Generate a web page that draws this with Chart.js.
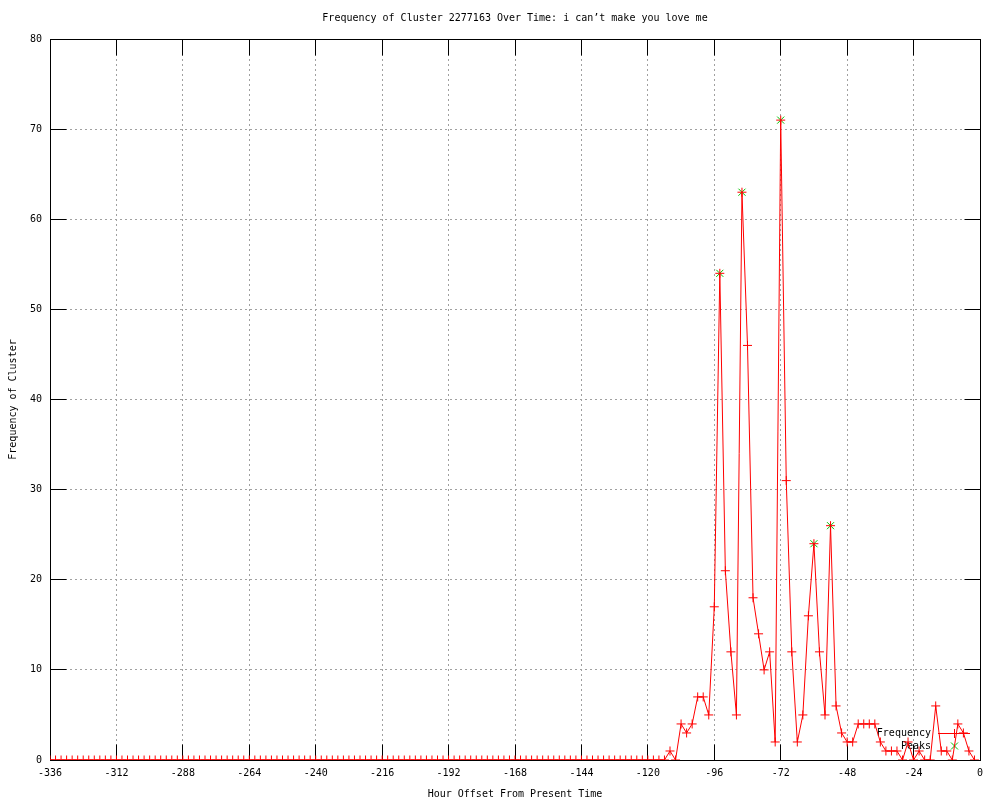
<!DOCTYPE html>
<html>
<head>
<meta charset="utf-8">
<script src="https://cdn.jsdelivr.net/npm/chart.js@4/dist/chart.umd.min.js"></script>
<style>
html,body{margin:0;padding:0;background:#fff;}
#wrap{width:1000px;height:800px;}
</style>
</head>
<body>
<div id="wrap"><canvas id="c" width="1000" height="800"></canvas></div>
<script>
// Hour offsets (every 2 hours)
const hours = [
-336,-334,-332,-330,-328,-326,-324,-322,-320,-318,-316,-314,-312,-310,-308,-306,-304,-302,-300,-298,
-296,-294,-292,-290,-288,-286,-284,-282,-280,-278,-276,-274,-272,-270,-268,-266,-264,-262,-260,-258,
-256,-254,-252,-250,-248,-246,-244,-242,-240,-238,-236,-234,-232,-230,-228,-226,-224,-222,-220,-218,
-216,-214,-212,-210,-208,-206,-204,-202,-200,-198,-196,-194,-192,-190,-188,-186,-184,-182,-180,-178,
-176,-174,-172,-170,-168,-166,-164,-162,-160,-158,-156,-154,-152,-150,-148,-146,-144,-142,-140,-138,
-136,-134,-132,-130,-128,-126,-124,-122,-120,-118,-116,-114,-112,-110,-108,-106,-104,-102,-100,-98,
-96,-94,-92,-90,-88,-86,-84,-82,-80,-78,-76,-74,-72,-70,-68,-66,-64,-62,-60,-58,
-56,-54,-52,-50,-48,-46,-44,-42,-40,-38,-36,-34,-32,-30,-28,-26,-24,-22,-20,-18,
-16,-14,-12,-10,-8,-6,-4,-2
];
// Frequency of cluster at each hour offset
const frequency = [
0,0,0,0,0,0,0,0,0,0,0,0,0,0,0,0,0,0,0,0,
0,0,0,0,0,0,0,0,0,0,0,0,0,0,0,0,0,0,0,0,
0,0,0,0,0,0,0,0,0,0,0,0,0,0,0,0,0,0,0,0,
0,0,0,0,0,0,0,0,0,0,0,0,0,0,0,0,0,0,0,0,
0,0,0,0,0,0,0,0,0,0,0,0,0,0,0,0,0,0,0,0,
0,0,0,0,0,0,0,0,0,0,0,0,1,0,4,3,4,7,7,5,
17,54,21,12,5,63,46,18,14,10,12,2,71,31,12,2,5,16,24,12,
5,26,6,3,2,2,4,4,4,4,2,1,1,1,0,2,0,1,0,0,
6,1,1,0,4,3,1,0
];
// Peaks
const peakHours = [-94, -86, -72, -60, -54];
const peakValues = [54, 63, 71, 24, 26];

const xTickStep = 24;
const yTickStep = 10;

const titleText = "Frequency of Cluster 2277163 Over Time: i can\u2019t make you love me";
const xTitle = "Hour Offset From Present Time";
const yTitle = "Frequency of Cluster";
const legendLabels = ["Frequency", "Peaks"];

const FONT = "'DejaVu Sans Mono', 'Liberation Mono', monospace";

const mainData = hours.map((h, i) => ({x: h, y: frequency[i]}));
const peakData = peakHours.map((h, i) => ({x: h, y: peakValues[i]}));

const align = p => Math.round(p - 0.5) + 0.5;

const framePlugin = {
  id: 'frame',
  beforeDatasetsDraw(chart) {
    const ctx = chart.ctx;
    const a = chart.chartArea;
    const xs = chart.scales.x, ys = chart.scales.y;
    const L = align(a.left), R = align(a.right);
    const T = align(a.top), B = align(a.bottom);
    const tl = 16;
    ctx.save();
    ctx.strokeStyle = '#000';
    ctx.lineWidth = 1;
    ctx.setLineDash([]);
    ctx.beginPath();
    xs.ticks.forEach(t => {
      const p = align(xs.getPixelForValue(t.value));
      ctx.moveTo(p, B); ctx.lineTo(p, B - tl);
      ctx.moveTo(p, T); ctx.lineTo(p, T + tl);
    });
    ys.ticks.forEach(t => {
      const p = align(ys.getPixelForValue(t.value));
      ctx.moveTo(L, p); ctx.lineTo(L + tl, p);
      ctx.moveTo(R, p); ctx.lineTo(R - tl, p);
    });
    ctx.stroke();
    ctx.strokeRect(L, T, R - L, B - T);

    // title
    ctx.font = "10px " + FONT;
    ctx.fillStyle = '#000';
    ctx.textAlign = 'center';
    ctx.textBaseline = 'middle';
    ctx.fillText(titleText, (a.left + a.right) / 2, 18);

    // key
    ctx.textAlign = 'right';
    const kx = 931, ky1 = 733, ky2 = 746;
    ctx.fillText(legendLabels[0], kx, ky1);
    ctx.fillText(legendLabels[1], kx, ky2);
    ctx.strokeStyle = '#ff0000';
    ctx.beginPath();
    ctx.moveTo(938, ky1 + 0.5); ctx.lineTo(970, ky1 + 0.5);
    ctx.moveTo(954.5, ky1 - 4); ctx.lineTo(954.5, ky1 + 5);
    ctx.stroke();
    ctx.strokeStyle = '#00c000';
    ctx.beginPath();
    ctx.moveTo(951, ky2 - 3.5); ctx.lineTo(958, ky2 + 3.5);
    ctx.moveTo(958, ky2 - 3.5); ctx.lineTo(951, ky2 + 3.5);
    ctx.stroke();
    ctx.restore();
  }
};

new Chart(document.getElementById('c'), {
  type: 'line',
  data: {
    datasets: [
      {
        label: legendLabels[1],
        data: peakData,
        showLine: false,
        borderColor: '#00c000',
        backgroundColor: '#00c000',
        pointStyle: 'crossRot',
        pointRadius: 5,
        pointBorderWidth: 1,
        order: 2
      },
      {
        label: legendLabels[0],
        data: mainData,
        borderColor: '#ff0000',
        backgroundColor: '#ff0000',
        borderWidth: 1,
        tension: 0,
        pointStyle: 'cross',
        pointRadius: 4.5,
        pointBorderWidth: 1,
        order: 1
      }
    ]
  },
  options: {
    responsive: false,
    animation: false,
    events: [],
    layout: {padding: {left: 0, right: 20, top: 39, bottom: 0}},
    plugins: {
      legend: {display: false},
      tooltip: {enabled: false},
      title: {display: false}
    },
    scales: {
      x: {
        type: 'linear',
        min: -336, max: 0,
        ticks: {stepSize: xTickStep, color: '#000', font: {family: FONT, size: 10}, padding: 7, maxRotation: 0, autoSkip: false},
        grid: {color: '#a0a0a0', drawTicks: false, lineWidth: 1},
        border: {display: false, dash: [2, 3]},
        title: {display: true, text: xTitle, color: '#000', font: {family: FONT, size: 10}, padding: {top: 0, bottom: 0}},
        afterFit(s) { s.height = 40; }
      },
      y: {
        type: 'linear',
        min: 0, max: 80,
        ticks: {stepSize: yTickStep, color: '#000', font: {family: FONT, size: 10}, padding: 8},
        grid: {color: '#a0a0a0', drawTicks: false, lineWidth: 1},
        border: {display: false, dash: [2, 3]},
        title: {display: true, text: yTitle, color: '#000', font: {family: FONT, size: 10}, padding: {top: 7, bottom: 0}},
        afterFit(s) { s.width = 50; }
      }
    }
  },
  plugins: [framePlugin]
});
</script>
</body>
</html>
